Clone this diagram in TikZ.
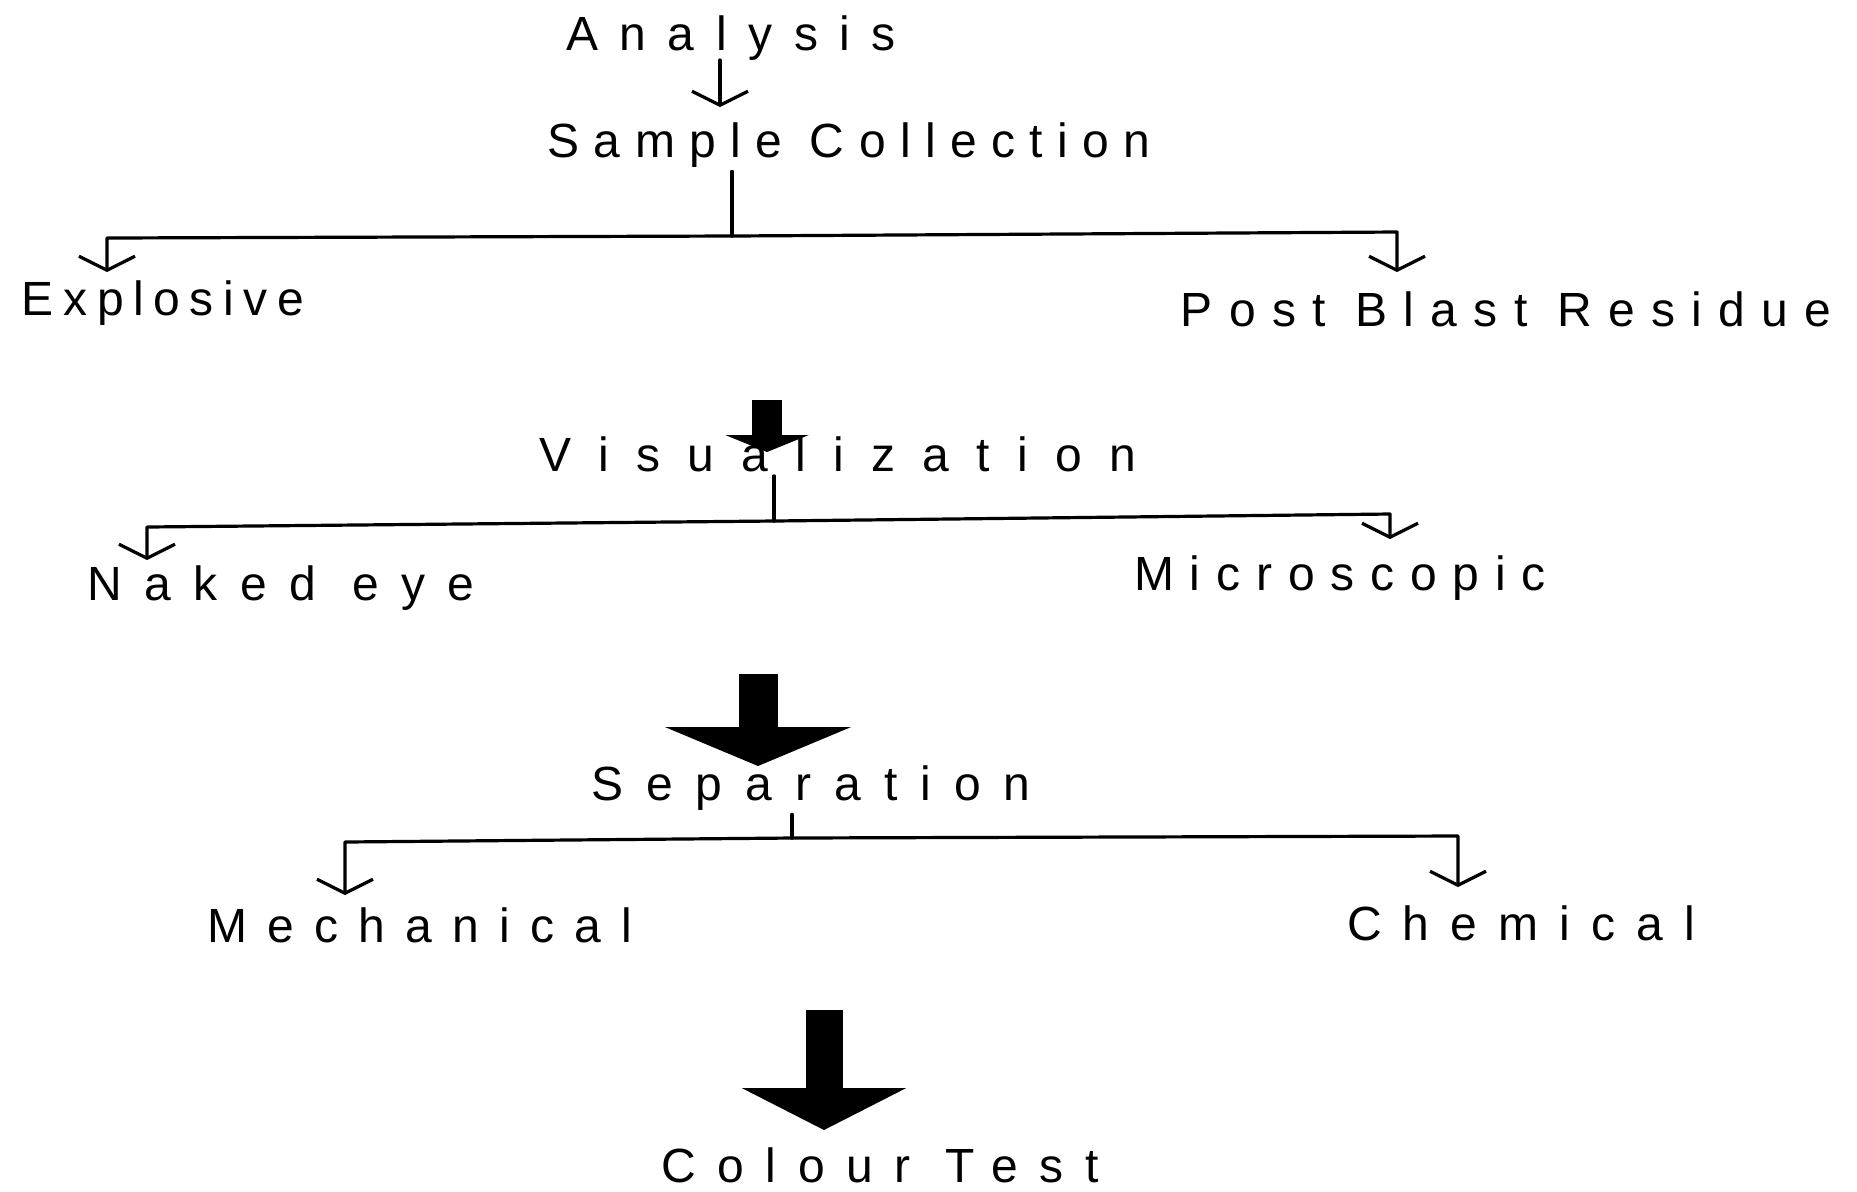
\documentclass[tikz,border=0pt]{standalone}
\usepackage{fontspec}
\newfontfamily\handfont{Liberation Sans}
\usetikzlibrary{arrows.meta}

\tikzset{
  lbl/.style={font=\handfont\fontsize{24}{27}\selectfont\addfontfeature{LetterSpace=#1}, anchor=base, inner sep=2pt},
  lbl/.default=42,
  wire/.style={line width=1.6pt, line cap=round, line join=round},
  arr/.style={wire, -{Straight Barb[length=7pt,width=28pt]}},
  fatarr/.style n args={3}{line width=#1, -{Triangle[width=#2,length=#3]}},
}

\begin{document}
\begin{tikzpicture}[x=0.5pt,y=-0.5pt]
\fill[white] (0,0) rectangle (1857,1191);
\useasboundingbox (0,0) rectangle (1857,1191);

% labels
\node[lbl=45] (anl) at (731,50) {Analysis};
\node[lbl=30] (smp) at (849,157) {Sample Collection};
\node[lbl=20] (exp) at (163,315) {Explosive};
\node[lbl=34] (pbr) at (1506,326) {Post Blast Residue};
\node[lbl=57] (vis) at (838,471) {Visualization};
\node[lbl=47] (nak) at (281,600) {Naked eye};
\node[lbl=33] (mic) at (1340,590) {Microscopic};
\node[lbl=48] (sep) at (811,800) {Separation};
\node[lbl=42] (mec) at (420,942) {Mechanical};
\node[lbl=44] (chm) at (1521,940) {Chemical};
\node[lbl=45] (col) at (880,1182) {Colour Test};

% analysis -> sample collection
\coordinate (a1s) at (720,60);
\coordinate (a1e) at (720,107);
\draw[arr] (a1s) -- (a1e);

% first split
\coordinate (j1) at (732,236);
\coordinate (b1l) at (107,238);
\coordinate (b1r) at (1397,232);
\draw[wire] (smp.south -| j1) -- (j1);
\draw[arr] (j1) -- (b1l) -- (b1l |- 0,272);
\draw[arr] (j1) -- (b1r) -- (b1r |- 0,272);

% to visualization
\coordinate (f1s) at (767,400);
\coordinate (f1e) at (767,452);
\draw[fatarr={15pt}{41.5pt}{8.5pt}] (f1s) -- (f1e);

% second split
\coordinate (j2) at (774,521);
\coordinate (b2l) at (147,527);
\coordinate (b2r) at (1390,514);
\draw[wire] (vis.south -| j2) -- (j2);
\draw[arr] (j2) -- (b2l) -- (b2l |- 0,560);
\draw[arr] (j2) -- (b2r) -- (b2r |- 0,539);

% to separation
\coordinate (f2s) at (758,674);
\coordinate (f2e) at (758,766);
\draw[fatarr={19.5pt}{92.5pt}{19.5pt}] (f2s) -- (f2e);

% third split
\coordinate (j3) at (792,838);
\coordinate (b3l) at (345,842);
\coordinate (b3r) at (1458,836);
\draw[wire] (sep.south -| j3) -- (j3);
\draw[arr] (j3) -- (b3l) -- (b3l |- 0,895);
\draw[arr] (j3) -- (b3r) -- (b3r |- 0,887);

% to colour test
\coordinate (f3s) at (824,1010);
\coordinate (f3e) at (824,1130);
\draw[fatarr={18.5pt}{81.5pt}{21pt}] (f3s) -- (f3e);
\end{tikzpicture}
\end{document}
